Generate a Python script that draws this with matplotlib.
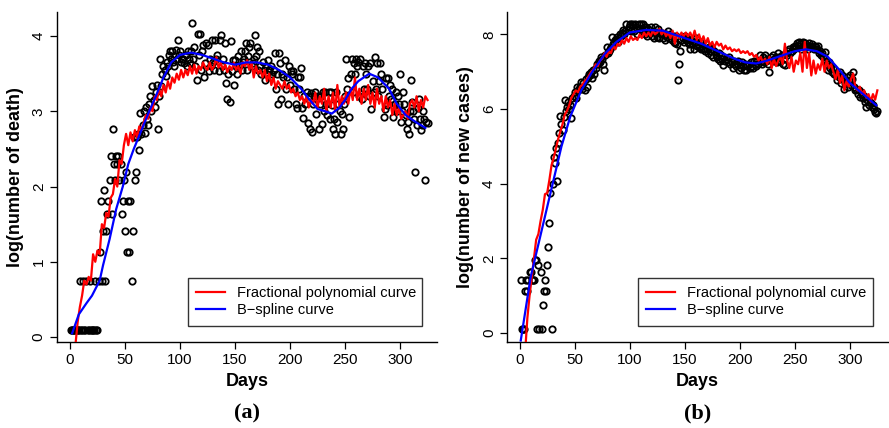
import numpy as np
import matplotlib
matplotlib.use("Agg")
import matplotlib.pyplot as plt

plt.rcParams['font.family'] = ['Liberation Sans', 'DejaVu Sans']

# ---- panel (a): log(number of death), daily from day 1
death = [
    0.1, 0.1, 0.1, 0.1, 0.1, 0.1, 0.1, 0.1, 0.74, 0.1,
    0.1, 0.74, 0.1, 0.1, 0.74, 0.1, 0.1, 0.74, 0.1, 0.1,
    0.1, 0.1, 0.74, 0.1, 0.1, 0.74, 1.13, 1.81, 0.74, 1.41,
    1.96, 0.74, 1.41, 1.63, 1.81, 2.09, 2.4, 1.63, 2.77, 2.3,
    2.09, 2.4, 2.3, 2.4, 2.09, 2.3, 1.63, 1.81, 2.09, 1.41,
    2.2, 1.13, 1.81, 1.13, 1.81, 0.74, 1.41, 2.66, 2.09, 2.2,
    2.66, 2.7, 2.48, 2.98, 2.7, 2.82, 3.0, 2.71, 3.06, 2.9,
    2.82, 3.1, 3.2, 3.0, 3.34, 3.15, 3.06, 3.25, 3.35, 2.77,
    3.2, 3.69, 3.34, 3.5, 3.6, 3.55, 3.47, 3.65, 3.6, 3.75,
    3.8, 3.7, 3.8, 3.65, 3.6, 3.82, 3.69, 3.95, 3.75, 3.8,
    3.65, 3.69, 3.7, 3.64, 3.75, 3.6, 3.8, 3.7, 3.64, 3.8,
    4.18, 3.7, 3.85, 3.6, 3.42, 4.03, 3.75, 4.03, 3.55, 3.8,
    3.88, 3.45, 3.64, 3.91, 3.88, 3.53, 3.7, 3.6, 3.95, 3.65,
    3.55, 3.95, 3.7, 3.75, 3.53, 3.95, 4.01, 3.6, 3.7, 3.55,
    3.91, 3.38, 3.16, 3.49, 3.13, 3.93, 3.53, 3.68, 3.35, 3.68,
    3.6, 3.5, 3.73, 3.6, 3.8, 3.55, 3.65, 3.7, 3.8, 3.91,
    3.55, 3.73, 3.85, 3.91, 3.6, 3.64, 3.7, 4.02, 3.73, 3.85,
    3.55, 3.8, 3.6, 3.5, 3.65, 3.55, 3.42, 3.6, 3.5, 3.68,
    3.55, 3.45, 3.6, 3.5, 3.55, 3.78, 3.3, 3.5, 3.1, 3.78,
    3.64, 3.16, 3.5, 3.45, 3.68, 3.3, 3.45, 3.1, 3.6, 3.35,
    3.53, 3.49, 3.53, 3.3, 3.1, 3.04, 3.45, 3.3, 3.45, 3.58,
    3.04, 2.91, 3.2, 3.1, 3.25, 2.84, 3.2, 2.77, 3.24, 2.72,
    3.1, 3.2, 3.26, 2.97, 3.2, 2.77, 3.1, 3.2, 2.83, 3.26,
    3.0, 3.26, 3.1, 2.95, 3.26, 2.9, 3.26, 3.09, 2.77, 2.9,
    2.7, 3.26, 2.86, 3.1, 3.0, 2.7, 2.97, 2.77, 3.1, 3.2,
    3.69, 3.3, 3.44, 2.93, 3.5, 3.69, 3.26, 3.64, 3.5, 3.69,
    3.6, 3.66, 3.2, 3.69, 3.17, 3.6, 3.3, 3.64, 3.5, 3.3,
    3.6, 3.2, 3.64, 3.03, 3.4, 3.26, 3.72, 3.3, 3.64, 3.2,
    3.4, 3.64, 3.5, 3.3, 2.93, 3.03, 3.44, 3.09, 3.44, 3.2,
    3.35, 3.17, 3.3, 2.93, 3.1, 3.26, 3.0, 3.2, 3.1, 3.5,
    2.86, 3.0, 3.26, 3.1, 2.95, 2.77, 2.86, 2.7, 3.0, 3.41,
    3.13, 3.0, 2.9, 2.2, 2.82, 3.05, 3.17, 2.9, 2.75, 2.82,
    3.0, 2.9, 2.09, 2.86, 2.84,
]

# fractional polynomial fit (a), every second day from day 5
fp_death = [
    -0.1, 0.2, 0.4, 0.55, 0.75, 0.7, 0.8, 0.75, 1.1, 1.0,
    1.15, 1.1, 1.5, 1.45, 1.65, 1.6, 1.85, 1.9, 2.1, 2.0,
    2.35, 2.3, 2.55, 2.7, 2.55, 2.72, 2.6, 2.75, 2.65, 2.8,
    2.75, 2.85, 2.95, 2.9, 3.05, 3.0, 3.2, 3.15, 3.3, 3.2,
    3.35, 3.25, 3.4, 3.3, 3.45, 3.38, 3.5, 3.42, 3.55, 3.45,
    3.55, 3.48, 3.6, 3.5, 3.62, 3.5, 3.6, 3.55, 3.65, 3.58,
    3.55, 3.65, 3.55, 3.6, 3.72, 3.58, 3.65, 3.55, 3.62, 3.52,
    3.6, 3.55, 3.65, 3.55, 3.6, 3.5, 3.65, 3.6, 3.68, 3.55,
    3.65, 3.45, 3.6, 3.5, 3.55, 3.45, 3.55, 3.4, 3.5, 3.35,
    3.45, 3.3, 3.4, 3.35, 3.3, 3.4, 3.3, 3.35, 3.25, 3.3,
    3.2, 3.25, 3.15, 3.2, 3.1, 3.2, 3.05, 3.15, 3.1, 3.25,
    3.05, 3.2, 3.1, 3.3, 3.0, 3.2, 3.05, 3.25, 3.0, 3.35,
    3.05, 3.2, 3.1, 3.25, 3.1, 3.3, 3.15, 3.45, 3.15, 3.3,
    3.1, 3.3, 3.15, 3.35, 3.1, 3.25, 3.05, 3.3, 3.1, 3.2,
    3.0, 3.2, 3.05, 3.15, 2.95, 3.1, 2.95, 3.05, 2.9, 2.95,
    3.0, 2.9, 3.1, 3.15, 3.05, 3.2, 3.0, 3.15, 3.05, 3.2,
    3.15,
]

bs_death_days = [2, 8, 15, 20, 27, 30, 36, 42, 48, 53, 58, 65, 72, 78, 85, 92,
                 100, 110, 120, 130, 140, 150, 160, 170, 180, 190, 200, 210,
                 218, 225, 232, 238, 245, 250, 256, 262, 272, 280, 290, 297,
                 305, 315, 323]
bs_death = [0.05, 0.3, 0.45, 0.55, 0.75, 0.95, 1.3, 1.7, 2.0, 2.3, 2.5, 2.75,
            3.0, 3.2, 3.45, 3.65, 3.75, 3.78, 3.75, 3.7, 3.65, 3.62, 3.65,
            3.65, 3.62, 3.55, 3.45, 3.3, 3.15, 3.03, 3.0, 2.97, 3.05, 3.15,
            3.3, 3.4, 3.5, 3.45, 3.3, 3.1, 2.95, 2.85, 2.78]

# ---- panel (b): log(number of new cases), daily from day 1
cases = [
    1.41, 0.1, 0.1, 0.1, 1.13, 1.41, 1.13, 1.41, 1.63, 1.63,
    1.41, 1.41, 1.41, 1.95, 1.95, 0.1, 1.81, 0.1, 1.63, 0.1,
    0.75, 1.13, 1.41, 1.13, 1.81, 2.3, 2.95, 3.74, 0.1, 4.0,
    4.72, 4.55, 4.95, 4.08, 5.1, 5.35, 5.82, 5.6, 5.45, 5.8,
    6.24, 5.95, 6.05, 6.2, 6.0, 6.1, 5.75, 6.3, 6.35, 6.45,
    6.3, 6.6, 6.5, 6.55, 6.6, 6.73, 6.55, 6.7, 6.5, 6.8,
    6.6, 6.85, 6.95, 6.9, 7.0, 6.82, 7.05, 6.95, 7.1, 7.2,
    7.2, 7.3, 7.25, 7.4, 7.35, 7.2, 7.04, 7.45, 7.67, 7.5,
    7.55, 7.6, 7.67, 7.94, 7.75, 7.8, 7.85, 7.94, 7.8, 7.9,
    8.0, 7.95, 8.05, 8.11, 8.0, 8.1, 8.29, 8.11, 8.2, 8.29,
    8.1, 8.29, 8.25, 8.1, 8.29, 8.2, 8.0, 8.29, 8.15, 8.29,
    8.1, 8.29, 8.2, 8.0, 8.2, 7.95, 8.15, 8.05, 8.2, 7.95,
    8.1, 7.9, 8.2, 8.05, 7.94, 8.15, 7.9, 8.0, 8.05, 7.9,
    8.0, 7.85, 8.0, 7.94, 8.1, 7.9, 8.0, 7.85, 7.95, 7.8,
    7.76, 7.95, 7.75, 6.78, 7.2, 7.56, 7.85, 7.9, 7.8, 7.95,
    7.85, 7.9, 7.8, 7.75, 7.6, 7.85, 7.75, 7.61, 7.8, 7.9,
    7.7, 7.75, 7.65, 7.8, 7.61, 7.7, 7.6, 7.55, 7.75, 7.6,
    7.5, 7.65, 7.55, 7.45, 7.6, 7.4, 7.55, 7.45, 7.4, 7.35,
    7.5, 7.3, 7.45, 7.35, 7.18, 7.4, 7.3, 7.35, 7.25, 7.4,
    7.2, 7.3, 7.25, 7.1, 7.3, 7.2, 7.15, 7.3, 7.04, 7.2,
    7.1, 7.25, 7.15, 7.05, 7.2, 7.04, 7.15, 7.2, 7.1, 7.25,
    7.15, 7.1, 7.3, 7.2, 7.15, 7.3, 7.2, 7.45, 7.3, 7.2,
    7.4, 7.25, 7.45, 7.3, 7.35, 7.2, 7.0, 7.4, 7.3, 7.45,
    7.35, 7.3, 7.4, 7.25, 7.5, 7.4, 7.3, 7.45, 7.2, 7.35,
    7.18, 7.5, 7.45, 7.55, 7.6, 7.5, 7.55, 7.65, 7.6, 7.7,
    7.65, 7.76, 7.7, 7.8, 7.75, 7.6, 7.8, 7.7, 7.76, 7.65,
    7.7, 7.6, 7.76, 7.7, 7.65, 7.75, 7.6, 7.7, 7.65, 7.6,
    7.7, 7.5, 7.55, 7.45, 7.5, 7.4, 7.54, 7.3, 7.2, 7.04,
    7.25, 7.1, 7.15, 7.0, 7.1, 6.95, 6.9, 6.78, 6.95, 6.85,
    7.0, 6.7, 6.9, 6.8, 6.53, 6.7, 6.85, 6.6, 6.75, 6.9,
    6.65, 6.8, 7.0, 6.6, 6.5, 6.55, 6.4, 6.5, 6.33, 6.45,
    6.4, 6.3, 6.35, 6.2, 6.06, 6.25, 6.1, 6.2, 6.15, 6.05,
    6.1, 6.0, 5.92, 5.9, 5.95,
]

# fractional polynomial fit (b), every second day from day 3
fp_cases = [
    -1.0, -0.5, 0.4, 1.0, 1.5, 2.0, 2.5, 2.65, 3.0, 3.3,
    3.72, 3.75, 4.1, 4.5, 4.7, 4.95, 5.2, 5.4, 5.6, 5.85,
    5.95, 6.1, 6.3, 6.4, 6.5, 6.45, 6.6, 6.65, 6.75, 6.8,
    6.9, 7.0, 7.05, 7.2, 7.15, 7.3, 7.35, 7.5, 7.4, 7.55,
    7.5, 7.7, 7.6, 7.75, 7.7, 7.85, 7.75, 7.9, 7.8, 7.95,
    7.85, 7.9, 7.85, 8.0, 7.9, 8.05, 7.95, 8.05, 7.95, 8.1,
    8.0, 8.05, 8.15, 8.0, 8.1, 7.95, 8.05, 7.9, 8.1, 7.75,
    8.05, 7.9, 8.05, 7.95, 8.05, 7.95, 8.05, 7.9, 8.1, 7.85,
    8.0, 7.8, 7.95, 7.75, 7.9, 7.7, 7.8, 7.65, 7.8, 7.7,
    7.75, 7.6, 7.7, 7.6, 7.65, 7.55, 7.6, 7.55, 7.6, 7.5,
    7.55, 7.5, 7.55, 7.45, 7.5, 7.4, 7.45, 7.3, 7.4, 7.25,
    7.35, 7.2, 7.4, 7.1, 7.35, 7.15, 7.3, 7.4, 7.2, 7.75,
    7.3, 7.1, 7.4, 7.0, 7.3, 7.2, 7.5, 7.0, 7.8, 7.1,
    7.5, 6.9, 7.3, 6.95, 7.2, 7.05, 7.35, 7.0, 7.3, 7.1,
    7.2, 7.0, 6.8, 7.05, 6.7, 6.9, 6.5, 6.75, 6.6, 6.8,
    6.95, 6.6, 6.5, 6.6, 6.4, 6.5, 6.3, 6.4, 6.2, 6.4,
    6.25, 6.5,
]

bs_cases_days = [1, 10, 22, 30, 38, 46, 56, 66, 78, 88, 100, 115, 130, 140,
                 150, 165, 180, 195, 205, 215, 225, 235, 250, 260, 270, 280,
                 292, 300, 310, 320, 324]
bs_cases = [-0.2, 1.5, 3.0, 4.0, 5.0, 5.8, 6.5, 7.0, 7.5, 7.8, 8.05, 8.12,
            8.1, 8.0, 7.9, 7.75, 7.55, 7.35, 7.25, 7.22, 7.3, 7.4, 7.55, 7.6,
            7.55, 7.4, 7.0, 6.7, 6.45, 6.2, 6.1]

fig = plt.figure(figsize=(8.89, 4.28), dpi=100)
axa = fig.add_axes([0.0641, 0.2009, 0.4275, 0.7711])
axb = fig.add_axes([0.5703, 0.2009, 0.4286, 0.7711])

panels = [
    (axa, death, fp_death, 5, bs_death_days, bs_death, (-11.8, 333.6), (-0.066, 4.32),
     [0, 1, 2, 3, 4], "log(number of death)", "(a)"),
    (axb, cases, fp_cases, 3, bs_cases_days, bs_cases, (-11.5, 334.7), (-0.24, 8.6),
     [0, 2, 4, 6, 8], "log(number of new cases)", "(b)"),
]

for ax, pts, fp, fp_start, bsd, bs, xl, yl, yt, ylab, tag in panels:
    days = np.arange(1, len(pts) + 1)
    fp_days = np.arange(fp_start, fp_start + 2 * len(fp), 2)
    ax.plot(days, pts, 'o', mfc='none', mec='black', ms=4.6, mew=1.3, zorder=2)
    ax.plot(fp_days, fp, color='red', lw=1.6, zorder=3, label="Fractional polynomial curve")
    ax.plot(bsd, bs, color='blue', lw=1.6, zorder=3, label="B\u2212spline curve")
    ax.set_xlim(*xl)
    ax.set_ylim(*yl)
    ax.set_xticks([0, 50, 100, 150, 200, 250, 300])
    ax.set_yticks(yt)
    ax.spines['top'].set_visible(False)
    ax.spines['right'].set_visible(False)
    for s in ('left', 'bottom'):
        ax.spines[s].set_linewidth(1.0)
    ax.tick_params(direction='out', length=5, width=0.9, labelsize=11, pad=3)
    for lab in ax.get_yticklabels():
        lab.set_rotation(90)
        lab.set_va('center')
    ax.set_xlabel("Days", fontsize=13, fontweight='bold', labelpad=4)
    ax.set_ylabel(ylab, fontsize=13, fontweight='bold', labelpad=6)
    leg = ax.legend(loc='lower left', bbox_to_anchor=(0.345, 0.05, 0.615, 0.155),
                    mode='expand', fontsize=10.5, frameon=True, fancybox=False,
                    edgecolor='black', handlelength=1.95, handletextpad=0.85,
                    borderpad=0.55, labelspacing=0.25, borderaxespad=0)
    leg.get_frame().set_linewidth(1.0)
    pos = ax.get_position()
    fig.text((pos.x0 + pos.x1) / 2, 0.035, tag, ha='center', va='center',
             fontsize=16, fontweight='bold', family='Liberation Serif')

fig.savefig("out.png", dpi=100)
